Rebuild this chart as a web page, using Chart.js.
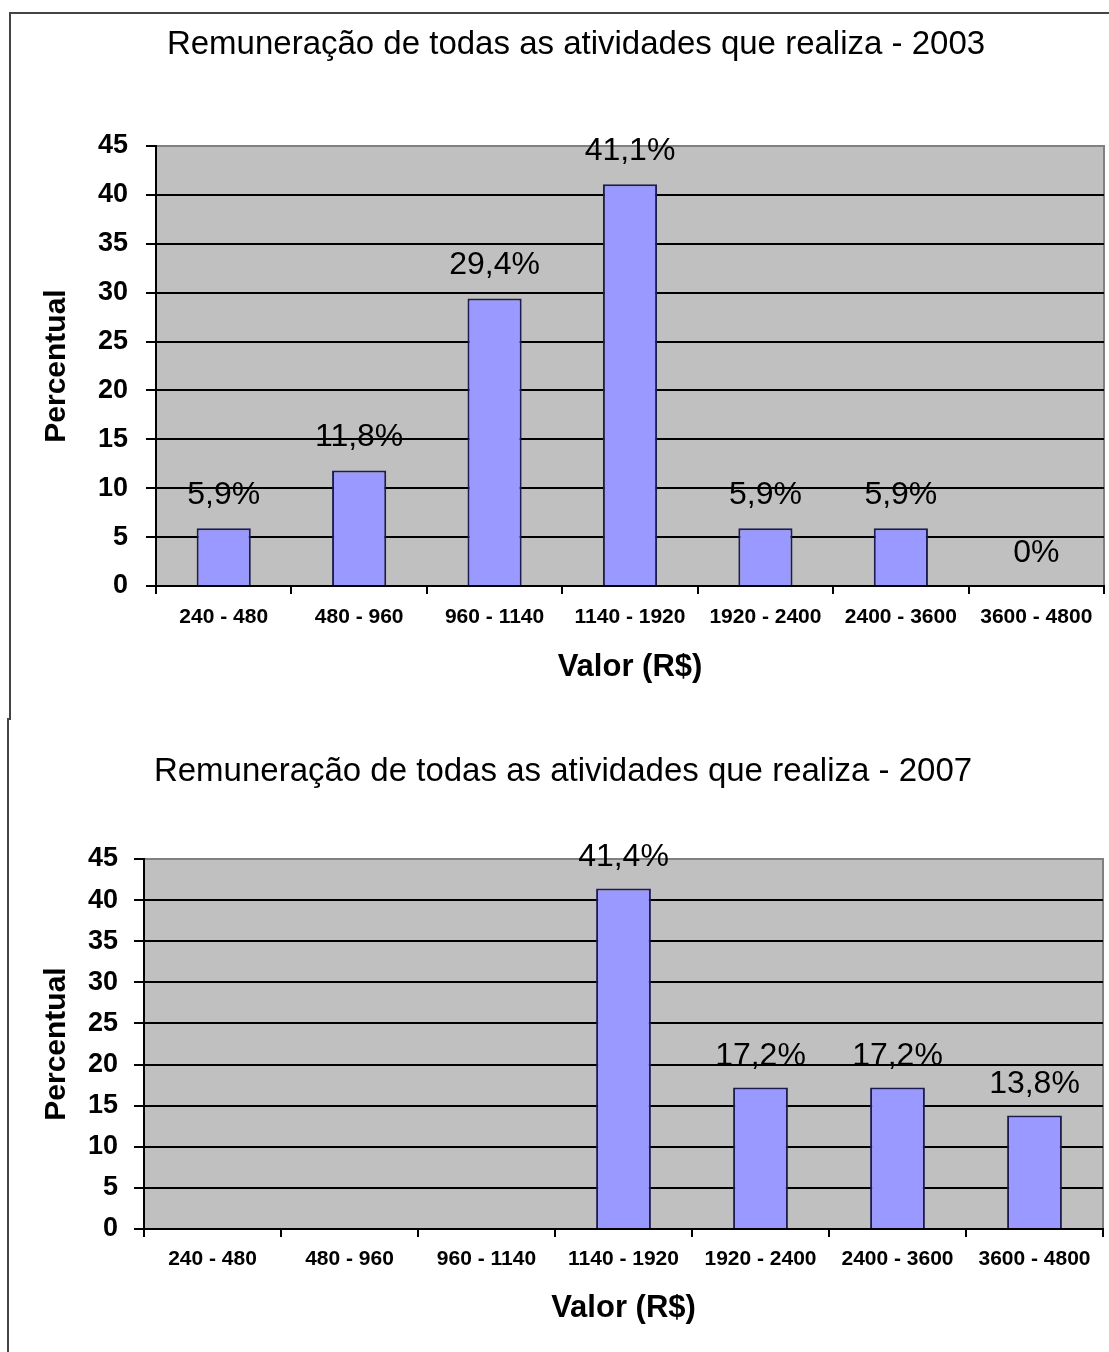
<!DOCTYPE html>
<html>
<head>
<meta charset="utf-8">
<title>Remuneração</title>
<script src="https://cdn.jsdelivr.net/npm/chart.js@4.4.1/dist/chart.umd.min.js"></script>
<style>
  body { margin: 0; background: #fff; width: 1109px; height: 1352px; overflow: hidden; position: relative; }
  .frame { position: absolute; border-left: 2px solid #444; }
  #frame2003 { left: 9px; top: 12px; width: 1200px; height: 706px; border-top: 2px solid #444; }
  #frame2007 { left: 7px; top: 718px; width: 1200px; height: 640px; }
  canvas { position: absolute; left: 0; }
  #c2003 { top: 0; }
  #c2007 { top: 718px; }
</style>
</head>
<body>
<div class="frame" id="frame2003"></div>
<div class="frame" id="frame2007"></div>
<canvas id="c2003" width="1109" height="716"></canvas>
<canvas id="c2007" width="1109" height="634"></canvas>
<script>
const faixas = ['240 - 480', '480 - 960', '960 - 1140', '1140 - 1920', '1920 - 2400', '2400 - 3600', '3600 - 4800'];
const perc2003 = [5.9, 11.8, 29.4, 41.1, 5.9, 5.9, 0];
const perc2007 = [null, null, null, 41.4, 17.2, 17.2, 13.8];

const FONT = '"Liberation Sans", Arial, sans-serif';

// gray plot background + thin gray frame on top/right
const plotFrame = {
  id: 'plotFrame',
  beforeDraw(chart) {
    const { ctx, chartArea: a } = chart;
    ctx.save();
    ctx.fillStyle = '#c0c0c0';
    ctx.fillRect(a.left, a.top, a.width, a.height);
    ctx.strokeStyle = '#808080';
    ctx.lineWidth = 2;
    ctx.beginPath();
    ctx.moveTo(a.left, a.top);
    ctx.lineTo(a.right, a.top);
    ctx.lineTo(a.right, a.bottom);
    ctx.stroke();
    ctx.restore();
  }
};

// percent labels above each bar
const barLabels = {
  id: 'barLabels',
  afterDatasetsDraw(chart, args, opts) {
    const { ctx } = chart;
    const values = chart.data.datasets[0].data;
    ctx.save();
    ctx.font = '32px ' + FONT;
    ctx.fillStyle = '#000';
    ctx.textAlign = 'center';
    ctx.textBaseline = 'middle';
    chart.getDatasetMeta(0).data.forEach((bar, i) => {
      const v = values[i];
      if (v === null) return;
      ctx.fillText(String(v).replace('.', ',') + '%', bar.x, bar.y - opts.lift);
    });
    ctx.restore();
  }
};

// chart heading, placed freely (not centred on the canvas)
const heading = {
  id: 'heading',
  afterDraw(chart, args, opts) {
    const { ctx } = chart;
    ctx.save();
    ctx.font = '33px ' + FONT;
    ctx.fillStyle = '#000';
    ctx.textAlign = 'center';
    ctx.textBaseline = 'middle';
    ctx.fillText(opts.text, opts.x, opts.y);
    ctx.restore();
  }
};

function drawChart(id, titulo, valores, g) {
  return new Chart(document.getElementById(id), {
    type: 'bar',
    data: {
      labels: faixas,
      datasets: [{
        data: valores,
        backgroundColor: '#9999ff',
        borderColor: '#1c1c50',
        borderWidth: 2,
        categoryPercentage: 1,
        barPercentage: 0.4
      }]
    },
    plugins: [plotFrame, barLabels, heading],
    options: {
      responsive: false,
      animation: false,
      layout: { padding: { left: 0, right: g.right, top: g.top, bottom: 0 } },
      plugins: {
        legend: { display: false },
        tooltip: { enabled: false },
        title: { display: false },
        heading: { text: titulo, x: g.titleX, y: g.titleY },
        barLabels: { lift: g.lift }
      },
      scales: {
        x: {
          afterFit(scale) { scale.height = g.xHeight; },
          grid: { offset: true, drawOnChartArea: false, tickLength: 8, color: '#000', lineWidth: 2 },
          border: { color: '#000', width: 2 },
          ticks: { color: '#000', padding: g.xPad, font: { family: FONT, size: 21, weight: 'bold' } },
          title: {
            display: true,
            text: 'Valor (R$)',
            color: '#000',
            font: { family: FONT, size: 31, weight: 'bold' },
            padding: { top: 0, bottom: g.xTitleBottom }
          }
        },
        y: {
          min: 0,
          max: 45,
          afterFit(scale) { scale.width = g.yWidth; },
          grid: {
            color: c => (c.tick && c.tick.value === 45 ? '#808080' : '#000'),
            tickColor: '#000',
            lineWidth: 2,
            tickLength: 10
          },
          border: { color: '#000', width: 2 },
          ticks: { stepSize: 5, color: '#000', padding: g.yPad, font: { family: FONT, size: 27, weight: 'bold' } },
          title: {
            display: true,
            text: 'Percentual',
            color: '#000',
            font: { family: FONT, size: 30, weight: 'bold' },
            padding: { top: 39, bottom: 0 }
          }
        }
      }
    }
  });
}

drawChart('c2003', 'Remuneração de todas as atividades que realiza - 2003', perc2003, {
  right: 5, top: 146, titleX: 576, titleY: 45, xHeight: 130, xPad: 11, xTitleBottom: 30,
  yWidth: 156, yPad: 18, lift: 33
});

drawChart('c2007', 'Remuneração de todas as atividades que realiza - 2007', perc2007, {
  right: 6, top: 141, titleX: 563, titleY: 54, xHeight: 123, xPad: 10, xTitleBottom: 25,
  yWidth: 144, yPad: 16, lift: 31
});
</script>
</body>
</html>
